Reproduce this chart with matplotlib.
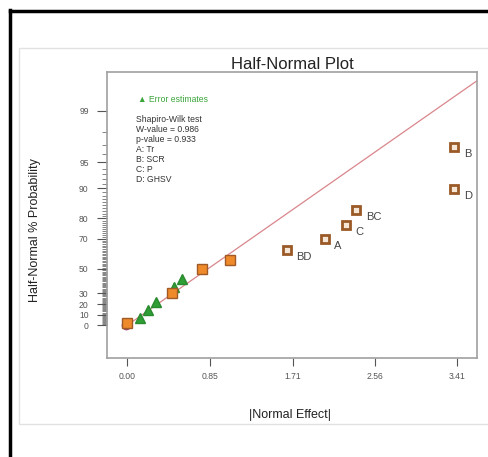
import numpy as np
import matplotlib
matplotlib.use("Agg")
import matplotlib.pyplot as plt
from matplotlib.lines import Line2D
from matplotlib.patches import Rectangle
from statistics import NormalDist

plt.rcParams['font.family'] = ['Liberation Sans', 'DejaVu Sans']

# |effect| and half-normal % probability
err_x = [0.13, 0.21, 0.30, 0.48, 0.57]
err_p = [6.5, 14.4, 21.6, 35.0, 41.8]

eff_x = [0.00, 0.46, 0.77, 1.06]
eff_p = [1.7, 29.8, 49.8, 56.6]

sig_names = ['BD', 'A', 'C', 'BC', 'D', 'B']
sig_x = [1.65, 2.04, 2.26, 2.37, 3.38, 3.38]
sig_p = [63.3, 69.7, 77.0, 83.3, 89.9, 96.8]

line_slope = 0.812  # z per unit effect
y_ticks = [0, 10, 20, 30, 50, 70, 80, 90, 95, 99]
x_ticks = [0.00, 0.85, 1.71, 2.56, 3.41]

info = ['Shapiro-Wilk test', 'W-value = 0.986', 'p-value = 0.933',
        'A: Tr', 'B: SCR', 'C: P', 'D: GHSV']

ND = NormalDist()


def p_to_z(p):
    p = np.asarray(p, dtype=float)
    res = np.zeros(p.size)
    for i, v in enumerate(p.ravel()):
        if not np.isfinite(v):
            res[i] = np.nan
            continue
        a = min(abs(v), 99.99999)
        res[i] = np.sign(v) * ND.inv_cdf(0.5 + a / 200.0)
    return res.reshape(p.shape)


def z_to_p(z):
    z = np.asarray(z, dtype=float)
    res = np.zeros(z.size)
    for i, v in enumerate(z.ravel()):
        if not np.isfinite(v):
            res[i] = np.nan
            continue
        res[i] = np.sign(v) * (2 * ND.cdf(abs(v)) - 1) * 100.0
    return res.reshape(z.shape)


fig = plt.figure(figsize=(4.89, 4.57), dpi=100)
ax = fig.add_axes([107 / 489, 1 - 358.3 / 457, 370 / 489, 286.6 / 457])
ax.set_yscale('function', functions=(p_to_z, z_to_p))

# frames around the figure
fig.add_artist(Rectangle((19 / 489, 1 - 424 / 457), 480 / 489, 376 / 457,
                         transform=fig.transFigure, fill=False,
                         edgecolor='#e2e2e2', lw=1))
fig.add_artist(Line2D([10 / 489, 10 / 489], [0, 1 - 10 / 457],
                      transform=fig.transFigure, color='black', lw=2.5))
fig.add_artist(Line2D([10 / 489, 1], [1 - 11 / 457, 1 - 11 / 457],
                      transform=fig.transFigure, color='black', lw=2.5))

# reference line
lx = np.linspace(0, 3.62, 60)
ax.plot(lx, z_to_p(line_slope * lx), color='#d9868c', lw=0.9, zorder=2)

ax.plot([-0.01], [0.5], 'o', ms=6, color='#9a4a6a', zorder=3)
ax.plot(err_x, err_p, '^', ms=7.5, color='#2f9e35', mec='#2a8a2f', zorder=4)
ax.plot(eff_x, eff_p, 's', ms=6.5, color='#ee8a2a', mec='#a05a25',
        mew=1.0, zorder=4)
ax.plot(sig_x, sig_p, 's', ms=5.2, mfc='#f6e6d6', mec='#9a5a28',
        mew=2.0, zorder=4)
for n, x, p in zip(sig_names, sig_x, sig_p):
    ax.annotate(n, (x, p), xytext=(7, -5), textcoords='offset points',
                fontsize=8, color='#444444', va='center', ha='left')

ax.set_xlim(-0.211, 3.617)
ax.set_ylim(-31.0, 99.768)
ax.set_xticks(x_ticks)
ax.set_xticklabels(['%.2f' % v for v in x_ticks])
ax.set_yticks(y_ticks)
ax.set_yticklabels([str(v) for v in y_ticks])
minor = [v for v in range(1, 99) if v not in y_ticks]
ax.set_yticks(minor, minor=True)

ax.tick_params(axis='y', which='major', length=7.2, width=0.8, pad=6,
               colors='#555555', labelsize=6.2)
ax.tick_params(axis='y', which='minor', length=3.5, width=0.5,
               color='#555555')
ax.tick_params(axis='x', which='major', length=5.8, width=0.8, pad=4,
               colors='#555555', labelsize=6.2)
for s in ax.spines.values():
    s.set_color('#a0a0a0')
    s.set_linewidth(1.2)

ax.set_title('Half-Normal Plot', fontsize=12, color='#222222', pad=2)
fig.text(290 / 489, 1 - 415 / 457, '|Normal Effect|', fontsize=9,
         color='#222222', ha='center', va='center')
fig.text(35 / 489, 1 - 230 / 457, 'Half-Normal % Probability', fontsize=9,
         color='#222222', ha='center', va='center', rotation=90)

fig.text(138 / 489, 1 - 99 / 457, '\u25b2 Error estimates', fontsize=6.2,
         color='#3aa53a', ha='left', va='center')
for i, t in enumerate(info):
    fig.text(136 / 489, 1 - (119.3 + 10 * i) / 457, t, fontsize=6.2,
             color='#333333', ha='left', va='center')

fig.savefig('out.png', dpi=100)
